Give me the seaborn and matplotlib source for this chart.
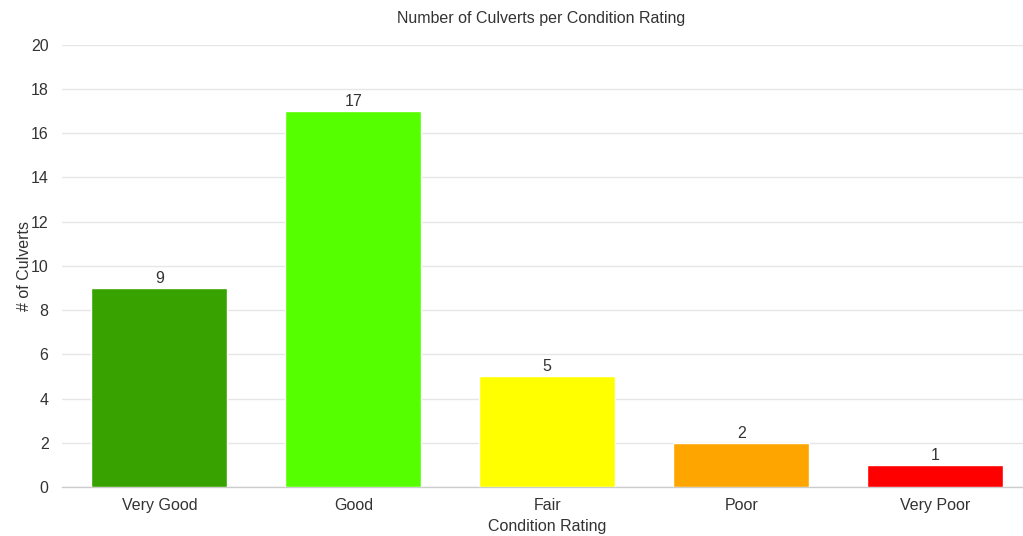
import matplotlib
matplotlib.use('Agg')
import matplotlib.pyplot as plt
import seaborn as sns
import pandas as pd

# Chart data
ratings = ['Very Good', 'Good', 'Fair', 'Poor', 'Very Poor']
counts = [9, 17, 5, 2, 1]
bar_colors = ['#38a300', '#55ff00', '#ffff00', '#ffa500', '#ff0000']
y_ticks = [0, 2, 4, 6, 8, 10, 12, 14, 16, 18, 20]

df = pd.DataFrame({'rating': ratings, 'count': counts})

sns.set_style('white')
plt.rcParams['font.family'] = ['Liberation Sans', 'DejaVu Sans']
text_color = '#333333'
fs = 11.5

fig = plt.figure(figsize=(10.23, 5.36), dpi=100)
ax = fig.add_axes([0.061, 0.0914, 0.948, 0.825])

sns.barplot(data=df, x='rating', y='count', hue='rating', palette=bar_colors,
            legend=False, width=0.70, saturation=1, ax=ax, zorder=3)

# value labels above bars
for i, v in enumerate(counts):
    ax.text(i, v + 0.1, str(v), ha='center', va='bottom', fontsize=fs, color=text_color)

ax.set_ylim(0, 20)
ax.set_yticks(y_ticks)
ax.grid(axis='y', color='#e6e6e6', linewidth=1, zorder=0)
for s in ['top', 'right', 'left']:
    ax.spines[s].set_visible(False)
ax.spines['bottom'].set_color('#cccccc')
ax.spines['bottom'].set_linewidth(1)

ax.tick_params(axis='x', colors='#cccccc', length=5, labelcolor=text_color, labelsize=fs, pad=3)
ax.tick_params(axis='y', length=0, labelcolor=text_color, labelsize=fs, pad=10)

# title centred on the visible plot area
fig.text(541 / 1023, 1 - 18 / 536, 'Number of Culverts per Condition Rating',
         ha='center', va='center', fontsize=fs, color=text_color)
ax.set_xlabel('Condition Rating', fontsize=fs, color=text_color, labelpad=4)
ax.set_ylabel('# of Culverts', fontsize=fs, color=text_color, labelpad=-1)

fig.savefig('out.png', dpi=100)
